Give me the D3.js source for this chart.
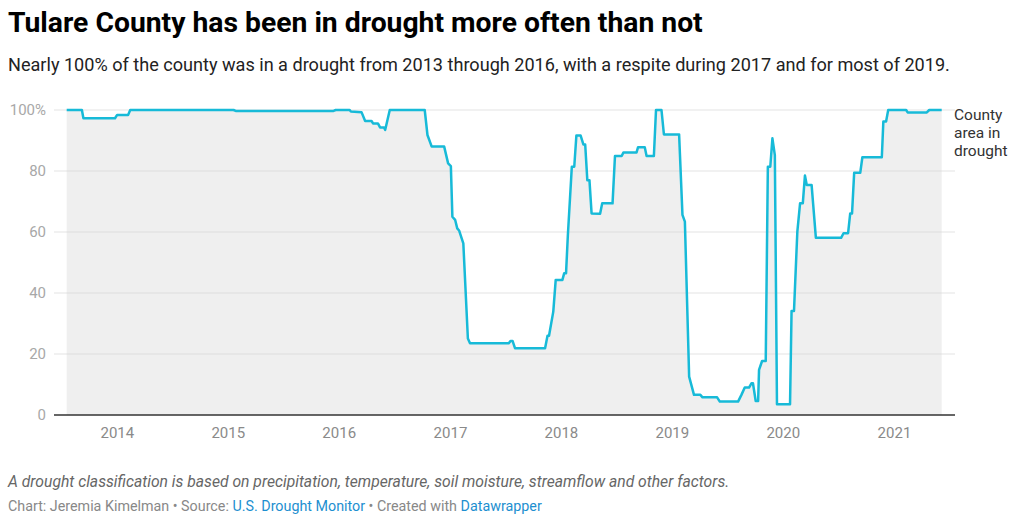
<!DOCTYPE html>
<html>
<head>
<meta charset="utf-8">
<script src="https://cdn.jsdelivr.net/npm/d3@7"></script>
<style>
  body { margin: 0; background: #fff; font-family: Roboto, "Noto Sans", sans-serif; }
  svg text { font-family: Roboto, "Noto Sans", sans-serif; }
</style>
</head>
<body>
<div id="chart"></div>
<script>
// Share of Tulare County in drought (U.S. Drought Monitor)
const dates = [
  "2013-07-20","2013-09-08","2013-09-13","2013-12-26","2014-01-02","2014-02-07","2014-02-14",
  "2015-01-20","2015-01-27","2015-12-15","2015-12-22","2016-02-06","2016-02-10","2016-03-16",
  "2016-03-28","2016-04-18","2016-04-23","2016-05-09","2016-05-16","2016-05-29","2016-06-02",
  "2016-06-17","2016-10-10","2016-10-19","2016-11-02","2016-12-13","2016-12-26","2017-01-04",
  "2017-01-09","2017-01-18","2017-01-25","2017-01-31","2017-02-14","2017-03-01","2017-03-08",
  "2017-07-13","2017-07-20","2017-07-26","2017-08-03","2017-11-10","2017-11-18","2017-11-23",
  "2017-12-07","2017-12-15","2018-01-06","2018-01-12","2018-01-18","2018-01-24","2018-02-06",
  "2018-02-14","2018-02-21","2018-03-07","2018-03-16","2018-03-22","2018-03-29","2018-04-05",
  "2018-04-12","2018-05-10","2018-05-17","2018-06-20","2018-06-28","2018-07-20","2018-07-26",
  "2018-09-07","2018-09-12","2018-10-04","2018-10-10","2018-11-03","2018-11-10","2018-11-28",
  "2018-12-06","2019-01-25","2019-02-05","2019-02-13","2019-02-27","2019-03-15","2019-04-05",
  "2019-04-12","2019-05-30","2019-06-08","2019-08-07","2019-08-18","2019-08-29","2019-09-12",
  "2019-09-20","2019-09-25","2019-10-04","2019-10-12","2019-10-15","2019-10-25","2019-11-06",
  "2019-11-13","2019-11-21","2019-11-28","2019-12-06","2019-12-13","2020-01-25","2020-01-30",
  "2020-02-07","2020-02-18","2020-02-27","2020-03-07","2020-03-14","2020-03-20","2020-04-05",
  "2020-04-19","2020-07-11","2020-07-19","2020-08-03","2020-08-10","2020-08-16","2020-08-23",
  "2020-09-12","2020-09-19","2020-11-22","2020-11-27","2020-12-06","2020-12-13","2021-02-10",
  "2021-02-15","2021-04-19","2021-04-27","2021-06-07"
]
const droughtPct = [
  100,100,97.3,97.3,98.4,98.4,100,
  100,99.7,99.7,100,100,99.5,99.3,
  96.4,96.4,95.6,95.6,94.3,94.3,93.5,
  100,100,91.8,88,88,82.5,81.6,
  65,64,61.2,60.5,56.3,25.1,23.5,
  23.5,24.3,24.3,21.9,21.9,26,26,
  33.9,44.3,44.3,46.5,46.5,59,81.4,
  81.4,91.6,91.6,88.7,88.7,77,77,
  66.1,66,69.4,69.4,84.9,84.9,86.1,
  86.1,87.8,87.8,84.9,84.9,100,100,
  92,92,65.6,63.4,12.6,6.6,6.6,
  5.8,5.8,4.4,4.4,6.6,9,9,
  10.4,10.4,4.6,4.6,14.8,17.7,17.7,
  81.4,81.4,90.7,85.2,3.5,3.5,34.1,
  34.1,60.1,69.4,69.4,78.5,75.4,75.4,
  58.1,58.1,59.6,59.6,66.1,66.1,79.4,
  79.4,84.5,84.5,96.2,96.2,100,100,
  99.2,99.2,100,100
]
const yTicks = [0, 20, 40, 60, 80, 100]
const xTickYears = ["2014","2015","2016","2017","2018","2019","2020","2021"]
const seriesLabel = ["County", "area in", "drought"]

const WIDTH = 1024
const HEIGHT = 521
const PLOT = {LEFT: 54, RIGHT: 955, TOP: 110, BOTTOM: 415}

const parseDate = d3.timeParse("%Y-%m-%d")
const data = dates.map((d, i) => ({date: parseDate(d), value: droughtPct[i]}))

const svg = d3.select("#chart").append("svg")
    .attr("width", WIDTH)
    .attr("height", HEIGHT)

// Title and description
svg.append("text")
    .attr("x", 8).attr("y", 32)
    .style("font-size", "28.3px").style("font-weight", 700).style("fill", "#000")
    .text("Tulare County has been in drought more often than not")
svg.append("text")
    .attr("x", 8).attr("y", 71)
    .style("font-size", "18.1px").style("fill", "#222")
    .text("Nearly 100% of the county was in a drought from 2013 through 2016, with a respite during 2017 and for most of 2019.")

// Scales: time axis so Jan 1 of each year sits under its label
const xScale = d3.scaleTime()
    .domain([parseDate("2013-07-20"), parseDate("2021-06-07")])
    .range([66.7, 941.7])

const yScale = d3.scaleLinear()
    .domain([0, 100])
    .range([PLOT.BOTTOM, PLOT.TOP])

// Gridlines
svg.append("g")
    .selectAll("line")
    .data(yTicks.filter(t => t > 0))
    .enter()
    .append("line")
        .attr("x1", PLOT.LEFT)
        .attr("x2", PLOT.RIGHT)
        .attr("y1", d => yScale(d))
        .attr("y2", d => yScale(d))
        .style("stroke", "#e3e3e3")
        .style("stroke-width", 1)

// Shaded area under the line
svg.append("path")
    .datum(data)
    .attr("d", d3.area().x(d => xScale(d.date)).y0(yScale(0)).y1(d => yScale(d.value)))
    .style("fill", "#d6d6d6")
    .style("fill-opacity", 0.4)

// Y tick labels
svg.append("g")
    .selectAll("text")
    .data(yTicks)
    .enter()
    .append("text")
        .attr("x", 46)
        .attr("y", d => yScale(d) + 5)
        .attr("text-anchor", "end")
        .style("font-size", "15px")
        .style("fill", "#a8a8a8")
        .text(d => d === 100 ? "100%" : d)

// X axis
const xAxis = svg.append("g")
    .attr("transform", "translate(0," + PLOT.BOTTOM + ")")
    .call(d3.axisBottom(xScale)
        .tickValues(xTickYears.map(y => parseDate(y + "-01-01")))
        .tickFormat(d3.timeFormat("%Y"))
        .tickSize(0)
        .tickPadding(12))
xAxis.select(".domain").remove()
xAxis.selectAll("text")
    .style("font-size", "15px")
    .style("fill", "#8a8a8a")
    .style("font-family", "Roboto, sans-serif")

svg.append("line")
    .attr("x1", PLOT.LEFT).attr("x2", PLOT.RIGHT)
    .attr("y1", yScale(0)).attr("y2", yScale(0))
    .style("stroke", "#333")
    .style("stroke-width", 1.5)

// The line itself
svg.append("path")
    .datum(data)
    .attr("d", d3.line().x(d => xScale(d.date)).y(d => yScale(d.value)))
    .style("fill", "none")
    .style("stroke", "#17bad8")
    .style("stroke-width", 2.5)
    .style("stroke-linejoin", "round")

// Series label at the end of the line
svg.append("text")
    .attr("x", 954).attr("y", 120)
    .style("font-size", "15.5px").style("fill", "#333")
    .selectAll("tspan")
    .data(seriesLabel)
    .enter()
    .append("tspan")
        .attr("x", 954)
        .attr("dy", (d, i) => i === 0 ? 0 : 18)
        .text(d => d)

// Notes and credits
svg.append("text")
    .attr("x", 8).attr("y", 487)
    .style("font-size", "15.7px").style("font-style", "italic").style("fill", "#666")
    .text("A drought classification is based on precipitation, temperature, soil moisture, streamflow and other factors.")

const credit = svg.append("text")
    .attr("x", 8).attr("y", 511)
    .style("font-size", "14.3px").style("fill", "#888")
credit.append("tspan").text("Chart: Jeremia Kimelman • Source: ")
credit.append("tspan").style("fill", "#1d8fd0").text("U.S. Drought Monitor")
credit.append("tspan").text(" • Created with ")
credit.append("tspan").style("fill", "#1d8fd0").text("Datawrapper")
</script>
</body>
</html>
